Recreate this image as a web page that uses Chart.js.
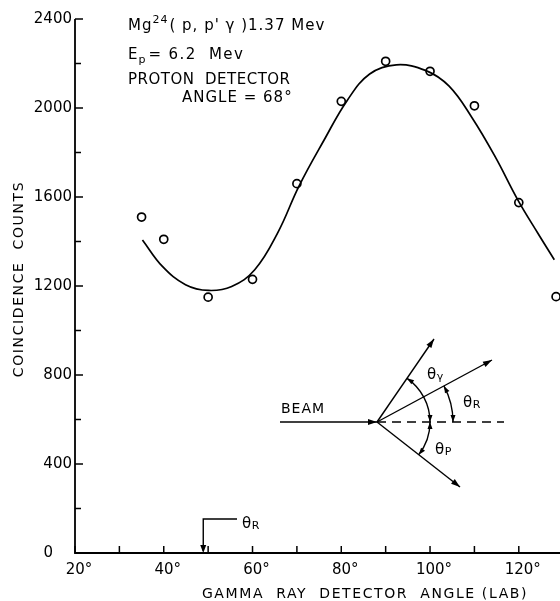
<!DOCTYPE html>
<html>
<head>
<meta charset="utf-8">
<script src="https://cdn.jsdelivr.net/npm/chart.js@4.4.1/dist/chart.umd.min.js"></script>
<style>
  html, body { margin: 0; padding: 0; background: #fff; }
</style>
</head>
<body>
<canvas id="chart" width="560" height="601"></canvas>
<script>
// measured points (gamma detector angle, coincidence counts)
var angles = [35, 40, 50, 60, 70, 80, 90, 100, 110, 120, 128.4];
var counts = [1510, 1410, 1150, 1230, 1660, 2030, 2210, 2165, 2010, 1575, 1152];

// hand drawn fit curve
var curveAngles = [35.2, 39.7, 44.9, 50.1, 55.3, 60.5, 65.7, 70.5, 76.1, 81.3, 86.4, 92.4, 99.1, 104.3, 109.5, 114.7, 119.8, 124.3, 128];
var curveCounts = [1407, 1288, 1206, 1180, 1198, 1273, 1440, 1650, 1855, 2033, 2153, 2194, 2168, 2098, 1955, 1780, 1586, 1437, 1318];

var xTickValues = [20, 30, 40, 50, 60, 70, 80, 90, 100, 110, 120];
var yTickValues = [0, 200, 400, 600, 800, 1000, 1200, 1400, 1600, 1800, 2000, 2200, 2400];
var recoilAngle = 48.9;

var FONT = 'DejaVu Sans';

function toXY(xs, ys) {
    return xs.map(function (x, i) { return { x: x, y: ys[i] }; });
}

function arrowHead(ctx, x, y, ang, len, half) {
    ctx.beginPath();
    ctx.moveTo(x, y);
    ctx.lineTo(x - len * Math.cos(ang) + half * Math.sin(ang), y - len * Math.sin(ang) - half * Math.cos(ang));
    ctx.lineTo(x - len * Math.cos(ang) - half * Math.sin(ang), y - len * Math.sin(ang) + half * Math.cos(ang));
    ctx.closePath();
    ctx.fill();
}

function arrowLine(ctx, x1, y1, x2, y2) {
    ctx.beginPath();
    ctx.moveTo(x1, y1);
    ctx.lineTo(x2, y2);
    ctx.stroke();
    arrowHead(ctx, x2, y2, Math.atan2(y2 - y1, x2 - x1), 9, 3);
}

// arc from angle a0 to a1 (canvas radians) with heads at both ends
function angleArc(ctx, cx, cy, r, a0, a1) {
    ctx.beginPath();
    ctx.arc(cx, cy, r, Math.min(a0, a1), Math.max(a0, a1));
    ctx.stroke();
    [a0, a1].forEach(function (a) {
        var other = a === a0 ? a1 : a0;
        var dir = other < a ? 1 : -1;
        var px = cx + r * Math.cos(a), py = cy + r * Math.sin(a);
        var tang = a + dir * Math.PI / 2;
        arrowHead(ctx, px, py, tang, 7, 2.5);
    });
}

function thetaLabel(ctx, x, y, sub) {
    ctx.font = '15px ' + FONT;
    ctx.fillText('θ', x, y);
    var w = ctx.measureText('θ').width;
    ctx.font = '11px ' + FONT;
    ctx.fillText(sub, x + w + 0.5, y + 1);
}

var decor = {
    id: 'decor',
    afterDraw: function (chart) {
        var ctx = chart.ctx;
        var xs = chart.scales.x, ys = chart.scales.y;
        var area = chart.chartArea;
        ctx.save();
        ctx.strokeStyle = '#000';
        ctx.fillStyle = '#000';
        ctx.lineCap = 'butt';

        // axes
        ctx.lineWidth = 1.8;
        ctx.beginPath();
        ctx.moveTo(area.left, area.top);
        ctx.lineTo(area.left, area.bottom);
        ctx.lineTo(560, area.bottom);
        ctx.stroke();

        // inward ticks
        ctx.lineWidth = 1.5;
        yTickValues.forEach(function (v) {
            var py = ys.getPixelForValue(v);
            var len = v % 400 === 0 ? 8 : 6;
            ctx.beginPath();
            ctx.moveTo(area.left, py);
            ctx.lineTo(area.left + len, py);
            ctx.stroke();
        });
        xTickValues.forEach(function (v) {
            var px = xs.getPixelForValue(v);
            ctx.beginPath();
            ctx.moveTo(px, area.bottom);
            ctx.lineTo(px, area.bottom - 7);
            ctx.stroke();
        });

        // axis titles
        ctx.textBaseline = 'alphabetic';
        ctx.font = '14px ' + FONT;
        ctx.letterSpacing = '1.6px';
        ctx.textAlign = 'center';
        ctx.fillText('GAMMA  RAY  DETECTOR  ANGLE (LAB)', 365, 598);
        ctx.save();
        ctx.translate(23, 279);
        ctx.rotate(-Math.PI / 2);
        ctx.letterSpacing = '1.6px';
        ctx.fillText('COINCIDENCE  COUNTS', 0, 0);
        ctx.restore();

        // reaction notes
        ctx.textAlign = 'left';
        ctx.letterSpacing = '1px';
        ctx.font = '15px ' + FONT;
        ctx.fillText('Mg', 128, 30);
        var w = ctx.measureText('Mg').width;
        ctx.font = '11px ' + FONT;
        ctx.fillText('24', 128 + w, 23);
        var w2 = ctx.measureText('24').width;
        ctx.font = '15px ' + FONT;
        ctx.fillText('( p, p\' γ )1.37 Mev', 128 + w + w2 + 1, 30);

        ctx.fillText('E', 128, 59);
        w = ctx.measureText('E').width;
        ctx.font = '11px ' + FONT;
        ctx.fillText('p', 128 + w, 63);
        ctx.font = '15px ' + FONT;
        ctx.letterSpacing = '1.4px';
        ctx.fillText('= 6.2  Mev', 128 + w + 10, 59);

        ctx.letterSpacing = '0.5px';
        ctx.fillText('PROTON  DETECTOR', 128, 84);
        ctx.letterSpacing = '1px';
        ctx.fillText('ANGLE = 68°', 182, 102);

        // beam geometry sketch
        var vx = 377, vy = 422;
        ctx.lineWidth = 1.4;
        arrowLine(ctx, 280, vy, vx, vy);
        ctx.font = '14px ' + FONT;
        ctx.fillText('BEAM', 281, 413);
        ctx.setLineDash([9, 6]);
        ctx.beginPath();
        ctx.moveTo(vx, vy);
        ctx.lineTo(504, vy);
        ctx.stroke();
        ctx.setLineDash([]);
        arrowLine(ctx, vx, vy, 434, 339);
        arrowLine(ctx, vx, vy, 492, 360);
        arrowLine(ctx, vx, vy, 460, 487);

        var aG = Math.atan2(339 - vy, 434 - vx);
        var aR = Math.atan2(360 - vy, 492 - vx);
        var aP = Math.atan2(487 - vy, 460 - vx);
        angleArc(ctx, vx, vy, 53, aG, 0);
        angleArc(ctx, vx, vy, 53, 0, aP);
        angleArc(ctx, vx, vy, 76, aR, 0);

        ctx.letterSpacing = '0px';
        thetaLabel(ctx, 427, 379, 'γ');
        thetaLabel(ctx, 463, 407, 'R');
        thetaLabel(ctx, 435, 454, 'P');

        // recoil angle marker on the x axis
        var rx = xs.getPixelForValue(recoilAngle);
        ctx.lineWidth = 1.4;
        ctx.beginPath();
        ctx.moveTo(237, 519);
        ctx.lineTo(rx, 519);
        ctx.lineTo(rx, area.bottom - 2);
        ctx.stroke();
        arrowHead(ctx, rx, area.bottom, Math.PI / 2, 8, 3);
        thetaLabel(ctx, 242, 528, 'R');

        ctx.restore();
    }
};

var ctx = document.getElementById('chart').getContext('2d');
var chart = new Chart(ctx, {
    type: 'scatter',
    data: {
        datasets: [{
            label: 'fit',
            data: toXY(curveAngles, curveCounts),
            showLine: true,
            pointRadius: 0,
            borderColor: '#000',
            borderWidth: 1.7,
            tension: 0.4,
            clip: false
        }, {
            label: 'counts',
            data: toXY(angles, counts),
            showLine: false,
            pointRadius: 4,
            pointStyle: 'circle',
            pointBackgroundColor: '#fff',
            pointBorderColor: '#000',
            pointBorderWidth: 1.7,
            clip: false
        }]
    },
    options: {
        responsive: false,
        animation: false,
        devicePixelRatio: 1,
        layout: { padding: { top: 19, right: 0, left: 0, bottom: 0 } },
        plugins: { legend: { display: false }, tooltip: { enabled: false } },
        scales: {
            x: {
                type: 'linear',
                min: 20,
                max: 128,
                afterFit: function (s) { s.height = 48; },
                afterBuildTicks: function (s) { s.ticks = xTickValues.map(function (v) { return { value: v }; }); },
                grid: { display: false },
                border: { display: false },
                ticks: {
                    autoSkip: false,
                    maxRotation: 0,
                    padding: 0,
                    labelOffset: 4,
                    color: '#000',
                    font: { family: FONT, size: 15 },
                    callback: function (v) { return v % 20 === 0 ? v + '°' : ''; }
                }
            },
            y: {
                min: 0,
                max: 2400,
                afterFit: function (s) { s.width = 75; },
                afterBuildTicks: function (s) { s.ticks = yTickValues.map(function (v) { return { value: v }; }); },
                grid: { display: false },
                border: { display: false },
                ticks: {
                    autoSkip: false,
                    padding: -5,
                    color: '#000',
                    font: { family: FONT, size: 15 },
                    callback: function (v) {
                        if (v === 0) return '0    ';
                        return v % 400 === 0 ? String(v) : '';
                    }
                }
            }
        }
    },
    plugins: [decor]
});
</script>
</body>
</html>
